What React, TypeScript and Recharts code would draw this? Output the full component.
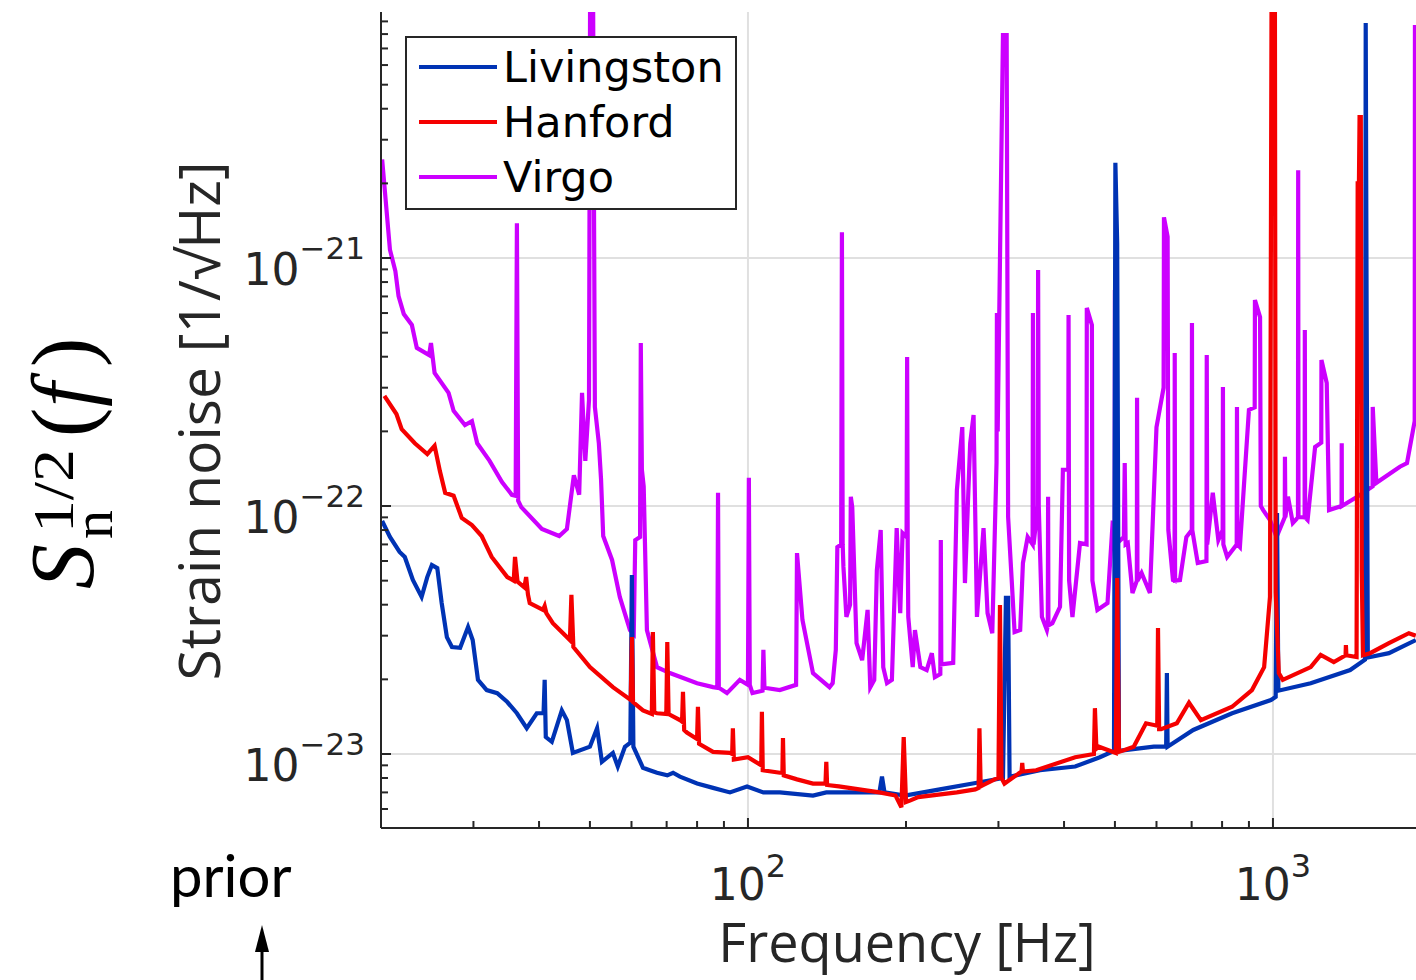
import { LineChart, Line, XAxis, YAxis, CartesianGrid } from "recharts";

// frequency in Hz, strain noise in units of 1e-23 / sqrt(Hz)
const UNIT = 1e-23;

const livingston: [number, number][] = [
  [20.1, 8.7], [20.8, 7.5], [21.7, 6.53], [22.2, 6.23], [23.0, 5.03], [23.9, 4.3],
  [24.5, 5.17], [25.0, 5.78], [25.6, 5.62], [26.1, 4.06], [26.7, 2.96], [27.3, 2.7],
  [28.3, 2.68], [29.3, 3.25], [29.9, 2.88], [30.6, 1.99], [31.8, 1.81], [33.3, 1.76],
  [34.8, 1.62], [36.3, 1.46], [37.9, 1.27], [39.6, 1.46], [40.8, 1.46], [41.0, 1.99],
  [41.2, 1.17], [42.3, 1.12], [44.2, 1.5], [45.2, 1.37], [46.4, 1.01], [50.0, 1.07],
  [51.6, 1.27], [52.7, 0.93], [55.3, 1.01], [56.5, 0.89], [58.3, 1.07], [59.7, 1.11],
  [60.1, 5.27], [60.5, 1.07], [63.1, 0.88], [65.0, 0.86], [67.1, 0.84], [70.2, 0.82],
  [72.0, 0.84], [74.2, 0.81], [80.0, 0.76], [85.8, 0.73], [92.4, 0.7], [99.6, 0.74],
  [107, 0.7], [115, 0.7], [133, 0.68], [141, 0.7], [178, 0.7], [180, 0.81], [182, 0.7],
  [199, 0.68], [232, 0.72], [268, 0.76], [306, 0.8], [310, 4.26], [313, 4.26],
  [315, 0.81], [360, 0.86], [420, 0.89], [468, 0.97], [498, 1.03], [501, 242],
  [505, 114], [509, 1.03], [593, 1.07], [626, 1.07], [628, 2.12], [630, 1.07],
  [705, 1.25], [836, 1.46], [991, 1.65], [1012, 1.7], [1018, 9.37], [1024, 1.8],
  [1180, 1.93], [1403, 2.18], [1497, 2.4], [1502, 887], [1510, 25], [1516, 2.45],
  [1663, 2.55], [1871, 2.88],
];

const hanford: [number, number][] = [
  [20.3, 27.8], [21.4, 23.5], [21.9, 20.4], [23.2, 17.9], [24.5, 16.2], [25.3, 17.5],
  [25.9, 13.8], [26.5, 11.3], [27.5, 11.0], [28.5, 8.95], [29.8, 8.38], [31.1, 7.57],
  [32.5, 6.23], [34.8, 5.17], [35.8, 5.0], [36.0, 6.23], [36.4, 4.95], [37.5, 4.7],
  [37.8, 5.17], [38.1, 4.4], [38.4, 4.06], [40.7, 3.81], [41.0, 3.95], [41.3, 3.7],
  [42.5, 3.37], [45.8, 2.88], [46.1, 4.38], [46.5, 2.7], [50.0, 2.24], [55.3, 1.86],
  [59.8, 1.65], [60.1, 2.96], [60.4, 1.62], [63.1, 1.5], [65.6, 1.45], [65.9, 3.1],
  [66.3, 1.47], [67.1, 1.46], [69.9, 1.45], [70.2, 2.83], [70.6, 1.45], [74.2, 1.37],
  [74.9, 1.35], [75.2, 1.78], [75.6, 1.25], [76.5, 1.22], [80.0, 1.15], [80.3, 1.55],
  [80.7, 1.1], [85.8, 1.02], [92.4, 1.01], [93.3, 1.0], [93.6, 1.27], [94.0, 0.95],
  [100, 0.97], [106.0, 0.9], [106.3, 1.48], [106.7, 0.86], [115, 0.84], [116.3, 0.84],
  [116.6, 1.16], [117.0, 0.82], [124, 0.79], [133, 0.76], [140.5, 0.76], [141, 0.93],
  [141.5, 0.75], [149, 0.74], [178, 0.7], [191, 0.68], [196, 0.61], [198, 1.17],
  [200, 0.64], [204, 0.65], [211, 0.67], [250, 0.7], [271, 0.72], [275, 0.73],
  [276, 1.27], [277.5, 0.74], [281, 0.75], [295, 0.79], [300, 0.8], [302, 3.99],
  [304, 0.8], [308, 0.76], [332, 0.85], [333, 0.92], [334, 0.85], [354, 0.86],
  [420, 0.97], [456, 1.0], [458, 1.53], [461, 1.05], [466, 1.07], [502, 1.01],
  [505, 5.13], [509, 1.02], [543, 1.07], [573, 1.33], [602, 1.3], [604, 3.22],
  [607, 1.26], [612, 1.26], [656, 1.33], [692, 1.61], [729, 1.37], [836, 1.55],
  [912, 1.81], [962, 2.24], [987, 4.3], [995, 3000], [1008, 3000], [1012, 4.5],
  [1026, 2.12], [1044, 1.99], [1180, 2.24], [1233, 2.51], [1306, 2.35], [1375, 2.5],
  [1377, 2.75], [1380, 2.5], [1443, 2.46], [1450, 200], [1458, 200], [1462, 370],
  [1470, 370], [1476, 5.52], [1484, 2.5], [1531, 2.55], [1663, 2.8], [1815, 3.07],
  [1871, 3.0],
];

const virgo: [number, number][] = [
  [20.1, 250], [20.8, 108], [21.3, 88.6], [21.6, 70.3], [22.1, 59.5], [22.9, 53.7],
  [23.4, 43.4], [24.7, 40.6], [24.9, 45.4], [25.3, 34.4], [26.9, 28.6], [27.5, 24.2],
  [28.9, 21.2], [29.8, 22.0], [30.5, 17.9], [32.2, 15.2], [34.0, 12.5], [35.5, 11.1],
  [36.1, 11.0], [36.3, 138], [36.5, 10.5], [37.0, 9.9], [40.5, 8.08], [43.7, 7.57],
  [45.2, 8.08], [46.6, 13.3], [47.7, 11.1], [48.3, 28.6], [49.0, 15.2], [49.8, 26.8],
  [50.1, 3000], [50.6, 3000], [51.1, 25.1], [52.0, 17.9], [52.5, 12.8], [53.0, 7.57],
  [55.1, 6.06], [57.0, 4.3], [59.6, 3.16], [60.6, 3.05], [61.0, 7.29], [62.3, 7.5],
  [62.5, 45.4], [62.8, 14.0], [63.3, 12], [64.2, 3.16], [67.1, 2.24], [71.0, 2.12],
  [80.0, 1.93], [85.8, 1.86], [87.4, 1.85], [87.7, 11.3], [88.0, 1.85], [91.2, 1.76],
  [96.5, 1.99], [100.0, 1.9], [100.4, 13.0], [100.8, 1.9], [102, 1.76], [106.6, 1.8],
  [107, 2.63], [107.5, 1.85], [115, 1.81], [123.5, 1.9], [124, 6.46], [127, 3.47],
  [133, 2.12], [143, 1.86], [145, 1.93], [147, 2.63], [148, 6.83], [150.5, 7],
  [151, 127], [151.5, 7], [152, 5.68], [154, 3.57], [156.5, 4], [157, 10.9],
  [158, 9.9], [161, 2.8], [165, 2.39], [169, 3.81], [171, 1.86], [174, 1.99],
  [176, 5.52], [179, 8.0], [181, 2.24], [184, 1.93], [188, 1.99], [192, 8.15],
  [195, 3.7], [197, 7.78], [200.5, 7.5], [201, 39.9], [201.5, 7], [202, 3.57],
  [206, 2.24], [208, 3.16], [213, 2.24], [219, 2.18], [224, 2.55], [227, 2.04],
  [232.5, 2.1], [233, 7.29], [233.5, 2.3], [246, 2.33], [250, 11.6], [256, 20.8],
  [259, 4.89], [265, 17.9], [269, 23.3], [273, 3.57], [281, 8.15], [286, 3.7],
  [292, 3.07], [297.5, 15], [298, 60.0], [299, 20], [306, 793], [311, 793],
  [313, 9.03], [318, 5.0], [322, 3.1], [330, 3.16], [334, 5.89], [341, 7.5],
  [348.5, 7], [349, 60], [350, 7], [356.5, 10], [357, 89.5], [358, 10],
  [363, 3.57], [371, 3.16], [372.5, 3.3], [373, 10.9], [373.5, 3.3], [380, 3.37],
  [393, 3.92], [398, 14.0], [407.5, 14], [408, 58.9], [409, 5], [415, 3.57],
  [429, 7.09], [441.5, 7], [442, 62.9], [452, 53.7], [453, 5], [463, 3.81],
  [484, 4.06], [495, 8.54], [499.5, 8.5], [500, 74.3], [501.5, 7], [520, 7.5],
  [522, 14.9], [524, 7], [529, 7.09], [540, 4.46], [550.5, 5], [551, 27.3],
  [552, 5], [562, 5.37], [583, 4.46], [600, 20.8], [619, 30], [620, 146],
  [630, 122], [632, 8], [645, 5.03], [649.5, 5], [650, 41.4], [651, 5],
  [665, 5.03], [684, 7.5], [700.5, 8], [701, 54.7], [702, 8], [719, 5.89],
  [747, 6], [748, 40.6], [749.5, 7], [768, 11.3], [787, 7.29], [802, 8],
  [803, 30.2], [804.5, 7], [818, 6.23], [853, 7], [854, 25.1], [855.5, 7],
  [865, 6.83], [900, 24.4], [923, 25], [924, 67.7], [945, 57.8], [948, 10],
  [958, 9.63], [987, 8.78], [1016, 7.5], [1053, 9], [1054, 15.8], [1056, 9],
  [1068, 10.9], [1091, 8.54], [1116, 9], [1117, 226], [1118.5, 9], [1126, 9.03],
  [1149, 9], [1150, 51.3], [1151.5, 9], [1164, 8.78], [1203, 17.3], [1236, 18],
  [1237, 38.8], [1266, 31.3], [1279, 9.63], [1351, 10], [1352, 17.9], [1353, 10],
  [1447, 10.9], [1548, 12], [1549, 25.1], [1574, 12.4], [1745, 14.4], [1800, 14.9],
  [1848, 20.2], [1862, 22], [1864, 854], [1880, 854],
];

const xMajorTicks = [100, 1000];
const xMinorTicks = [30, 40, 50, 60, 70, 80, 90, 200, 300, 400, 500, 600, 700, 800, 900, 2000];
const yMajorTicks = [1e-23, 1e-22, 1e-21];
const yMinorTicks = [
  6e-24, 7e-24, 8e-24, 9e-24,
  2e-23, 3e-23, 4e-23, 5e-23, 6e-23, 7e-23, 8e-23, 9e-23,
  2e-22, 3e-22, 4e-22, 5e-22, 6e-22, 7e-22, 8e-22, 9e-22,
  2e-21, 3e-21, 4e-21, 5e-21, 6e-21, 7e-21, 8e-21, 9e-21,
];

const series = [
  { name: "Livingston", color: "#0033b4", pts: livingston },
  { name: "Hanford", color: "#f50000", pts: hanford },
  { name: "Virgo", color: "#cc00ff", pts: virgo },
];

const toRows = (pts: [number, number][]) => pts.map(([f, s]) => ({ f, s: s * UNIT }));

const AXIS = "#262626";
const GRID = "#e0e0e0";
const X_DOMAIN = [20, 2000];
const Y_DOMAIN = [5.03e-24, 9.82e-21];

const isMajorY = (v: number) => yMajorTicks.some((t) => Math.abs(t - v) / t < 1e-6);
const expLabel = (v: number) => {
  const e = Math.round(Math.log10(v));
  return e < 0 ? `\u2212${-e}` : `${e}`;
};

const XTickBottom = (props: any) => {
  const { x, y, payload } = props;
  const v = payload.value;
  const major = xMajorTicks.includes(v);
  return (
    <g>
      <line x1={x} x2={x} y1={y} y2={y - (major ? 10 : 7)} stroke={AXIS} strokeWidth={2} />
      {major && (
        <text x={x} y={y + 72} textAnchor="middle" fontFamily="DejaVu Sans" fontSize={44} fill={AXIS}>
          10
          <tspan dy={-23} fontSize={32}>{expLabel(v)}</tspan>
        </text>
      )}
    </g>
  );
};

const XTickTop = (props: any) => {
  const { x, y, payload } = props;
  const major = xMajorTicks.includes(payload.value);
  return <line x1={x} x2={x} y1={y} y2={y + (major ? 10 : 7)} stroke={AXIS} strokeWidth={2} />;
};

const YTickLeft = (props: any) => {
  const { x, y, payload } = props;
  const v = payload.value;
  const major = isMajorY(v);
  return (
    <g>
      <line x1={x} x2={x + (major ? 10 : 7)} y1={y} y2={y} stroke={AXIS} strokeWidth={2} />
      {major && (
        <text x={x - 16} y={y + 27} textAnchor="end" fontFamily="DejaVu Sans" fontSize={44} fill={AXIS}>
          10
          <tspan dy={-26} fontSize={31}>{expLabel(v)}</tspan>
        </text>
      )}
    </g>
  );
};

export default function App() {
  const drawOrder = [series[2], series[0], series[1]];
  return (
    <div
      style={{
        position: "absolute",
        left: 0,
        top: 0,
        width: 1416,
        height: 980,
        overflow: "hidden",
        background: "#fff",
      }}
    >
      <LineChart width={1450} height={980} margin={{ top: 12, right: 19, bottom: 0, left: 0 }}>
        <CartesianGrid
          horizontalValues={yMajorTicks}
          verticalValues={xMajorTicks}
          stroke={GRID}
          strokeWidth={2}
        />
        <XAxis
          dataKey="f"
          type="number"
          scale="log"
          domain={X_DOMAIN}
          allowDataOverflow
          ticks={[...xMajorTicks, ...xMinorTicks]}
          interval={0}
          tickSize={0}
          tickMargin={0}
          height={152}
          tickLine={false}
          axisLine={{ stroke: AXIS, strokeWidth: 2 }}
          tick={XTickBottom}
        />
        <XAxis
          xAxisId="top"
          orientation="top"
          dataKey="f"
          type="number"
          scale="log"
          domain={X_DOMAIN}
          allowDataOverflow
          ticks={[...xMajorTicks, ...xMinorTicks]}
          interval={0}
          tickSize={0}
          tickMargin={0}
          height={0}
          tickLine={false}
          axisLine={{ stroke: AXIS, strokeWidth: 2 }}
          tick={XTickTop}
        />
        <YAxis
          type="number"
          scale="log"
          domain={Y_DOMAIN}
          allowDataOverflow
          ticks={[...yMajorTicks, ...yMinorTicks]}
          interval={0}
          tickSize={0}
          tickMargin={0}
          width={381}
          tickLine={false}
          axisLine={{ stroke: AXIS, strokeWidth: 2 }}
          tick={YTickLeft}
        />
        {drawOrder.map((s) => (
          <Line
            key={s.name}
            name={s.name}
            data={toRows(s.pts)}
            dataKey="s"
            type="linear"
            stroke={s.color}
            strokeWidth={4.2}
            dot={false}
            activeDot={false}
            isAnimationActive={false}
          />
        ))}
      </LineChart>

      <svg
        width={1416}
        height={980}
        style={{ position: "absolute", left: 0, top: 0, pointerEvents: "none" }}
      >
        {/* legend */}
        <rect x={406} y={37} width={330} height={172} fill="#fff" stroke={AXIS} strokeWidth={2} />
        {series.map((s, i) => (
          <g key={s.name}>
            <line x1={419} x2={497} y1={67 + i * 55} y2={67 + i * 55} stroke={s.color} strokeWidth={4} />
            <text x={503} y={82 + i * 55} fontFamily="DejaVu Sans" fontSize={43} fill="#000">
              {s.name}
            </text>
          </g>
        ))}

        {/* math label */}
        <g transform="translate(93, 589) rotate(-90)" fontFamily="Liberation Serif" fill="#000">
          <text x={0} y={0} fontSize={90} fontStyle="italic">S</text>
          <text x={56} y={-20} fontSize={58} textLength={84} lengthAdjust="spacingAndGlyphs">1/2</text>
          <text x={50} y={19} fontSize={58}>n</text>
          <text x={152} y={0} fontSize={88}>(</text>
          <text x={182} y={0} fontSize={88} fontStyle="italic">f</text>
          <text x={222} y={0} fontSize={88}>)</text>
        </g>

        {/* axis labels */}
        <text
          transform="translate(220, 421) rotate(-90)"
          textAnchor="middle"
          fontFamily="Open Sans"
          fontSize={57}
          fill={AXIS}
        >
          Strain noise [1/√Hz]
        </text>
        <text x={907} y={962} textAnchor="middle" fontFamily="Open Sans" fontSize={54} fill={AXIS}>
          Frequency [Hz]
        </text>

        {/* prior marker */}
        <text x={170} y={897} fontFamily="Lato" fontSize={58} fill="#000">prior</text>
        <line x1={262} x2={262} y1={948} y2={985} stroke="#000" strokeWidth={3} />
        <polygon points="262,925 255,952 269,952" fill="#000" />
      </svg>
    </div>
  );
}
